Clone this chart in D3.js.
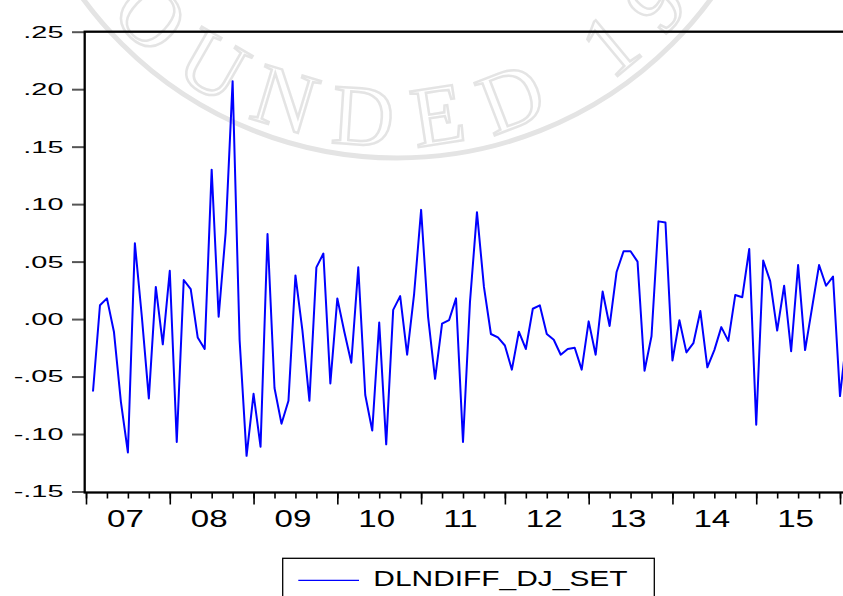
<!DOCTYPE html>
<html>
<head>
<meta charset="utf-8">
<script src="https://cdn.jsdelivr.net/npm/d3@7"></script>
<style>
  body { margin: 0; background: #fff; }
  svg { display: block; font-family: "Liberation Sans", Arial, sans-serif; }
</style>
</head>
<body>
<div id="chart"></div>
<script>
// monthly series, first observation is 2007M02 (month index 1, 2007M01 = 0)
const startMonth = 1;
const values = [
  -0.063, 0.012, 0.018, -0.011, -0.072, -0.116, 0.066, 0.002, -0.069, 0.028, -0.022,
  0.042, -0.107, 0.034, 0.026, -0.016, -0.026, 0.130, 0.002, 0.075, 0.207, -0.018, -0.119,
  -0.065, -0.111, 0.074, -0.060, -0.091, -0.071, 0.038, -0.010, -0.071, 0.045, 0.057, -0.056,
  0.018, -0.011, -0.038, 0.045, -0.066, -0.097, -0.003, -0.109, 0.008, 0.020, -0.031, 0.022,
  0.095, 0.002, -0.052, -0.004, -0.001, 0.018, -0.107, 0.015, 0.093, 0.028, -0.013, -0.016,
  -0.023, -0.044, -0.011, -0.026, 0.009, 0.012, -0.013, -0.018, -0.031, -0.026, -0.025, -0.044,
  -0.002, -0.031, 0.024, -0.006, 0.041, 0.059, 0.059, 0.050, -0.045, -0.015, 0.085, 0.084,
  -0.036, -0.001, -0.029, -0.021, 0.007, -0.042, -0.027, -0.007, -0.019, 0.021, 0.019, 0.061,
  -0.092, 0.051, 0.033, -0.010, 0.029, -0.028, 0.047, -0.027, 0.010, 0.047, 0.029, 0.037,
  -0.067, -0.013
];
const yearLabels = ["07", "08", "09", "10", "11", "12", "13", "14", "15"];
const yTicks = [-0.15, -0.10, -0.05, 0.00, 0.05, 0.10, 0.15, 0.20, 0.25];
const seriesName = "DLNDIFF_DJ_SET";
const watermarkText = "FOUNDED 19";

const W = 843, H = 596;
const svg = d3.select("#chart").append("svg")
  .attr("width", W)
  .attr("height", H);

const x = d3.scaleLinear().domain([0, 108]).range([86, 840]);
const y = d3.scaleLinear().domain([-0.15, 0.25]).range([491.5, 31.7]);

const fmt = d => (d < 0 ? "-" : "") + Math.abs(d).toFixed(2).slice(1);

// faint seal watermark, drawn first so the texts stay readable
const cx = 397, cy = -231;
const arc = d3.path();
arc.arc(cx, cy, 377, Math.PI, 0, true);
svg.append("defs").append("path").attr("id", "wmArc").attr("d", arc.toString());
const wm = svg.append("g")
  .attr("fill", "none")
  .attr("stroke", "#e4e4e4");
wm.append("circle")
  .attr("cx", cx).attr("cy", cy).attr("r", 389)
  .attr("stroke-width", 5);
wm.append("text")
  .attr("font-family", "Liberation Serif, serif")
  .attr("font-size", 86)
  .attr("letter-spacing", 24)
  .attr("stroke-width", 2.5)
  .append("textPath")
  .attr("href", "#wmArc")
  .attr("startOffset", 195)
  .text(watermarkText);

// y axis
const gy = svg.append("g")
  .attr("transform", "translate(84,0)")
  .call(d3.axisLeft(y).tickValues(yTicks).tickSize(12).tickFormat(fmt));
gy.select(".domain").remove();
gy.attr("font-family", null).attr("font-size", 17);
gy.selectAll(".tick line").attr("stroke", "#555").attr("stroke-width", 2);
gy.selectAll(".tick text")
  .attr("x", null)
  .attr("fill", "#000")
  .attr("transform", "translate(-20.5,0) scale(1.7,1)");

// x axis: quarter ticks, year ticks, year labels
const axisY = 492.5;
const gq = svg.append("g")
  .attr("transform", `translate(0,${axisY})`)
  .call(d3.axisBottom(x).tickValues(d3.range(0, 109, 3)).tickSize(6).tickFormat(""));
const gm = svg.append("g")
  .attr("transform", `translate(0,${axisY})`)
  .call(d3.axisBottom(x).tickValues(d3.range(0, 109, 12)).tickSize(12).tickFormat(""));
[gq, gm].forEach(g => {
  g.select(".domain").remove();
  g.selectAll(".tick line").attr("stroke", "#000").attr("stroke-width", 1.6);
});
const gl = svg.append("g")
  .attr("transform", `translate(0,${axisY})`)
  .call(d3.axisBottom(x)
    .tickValues(yearLabels.map((_, i) => i * 12 + 6))
    .tickSize(0)
    .tickFormat((d, i) => yearLabels[i]));
gl.select(".domain").remove();
gl.attr("font-family", null).attr("font-size", 24);
gl.selectAll(".tick text")
  .attr("y", null).attr("dy", null)
  .attr("fill", "#000")
  .attr("transform", "translate(-3,34.5) scale(1.38,1)");

// series line
svg.append("path")
  .datum(values)
  .attr("fill", "none")
  .attr("stroke", "#0000ff")
  .attr("stroke-width", 2)
  .attr("stroke-linejoin", "round")
  .attr("d", d3.line().x((d, i) => x(i + startMonth)).y(d => y(d)));

// frame (right side runs off the picture)
svg.append("rect")
  .attr("x", 84.7)
  .attr("y", y(0.25))
  .attr("width", 820)
  .attr("height", y(-0.15) - y(0.25) + 1)
  .attr("fill", "none")
  .attr("stroke", "#000")
  .attr("stroke-width", 2.3);

// legend
const lg = svg.append("g");
lg.append("rect")
  .attr("x", 282.7).attr("y", 558.3)
  .attr("width", 371.6).attr("height", 60)
  .attr("fill", "#fff")
  .attr("stroke", "#000")
  .attr("stroke-width", 1.3);
lg.append("line")
  .attr("x1", 298.3).attr("x2", 359)
  .attr("y1", 580.3).attr("y2", 580.3)
  .attr("stroke", "#0000ff")
  .attr("stroke-width", 1.2);
lg.append("text")
  .attr("transform", "translate(373.3,585.5) scale(1.36,1)")
  .attr("font-size", 22)
  .attr("fill", "#000")
  .text(seriesName);
</script>
</body>
</html>
